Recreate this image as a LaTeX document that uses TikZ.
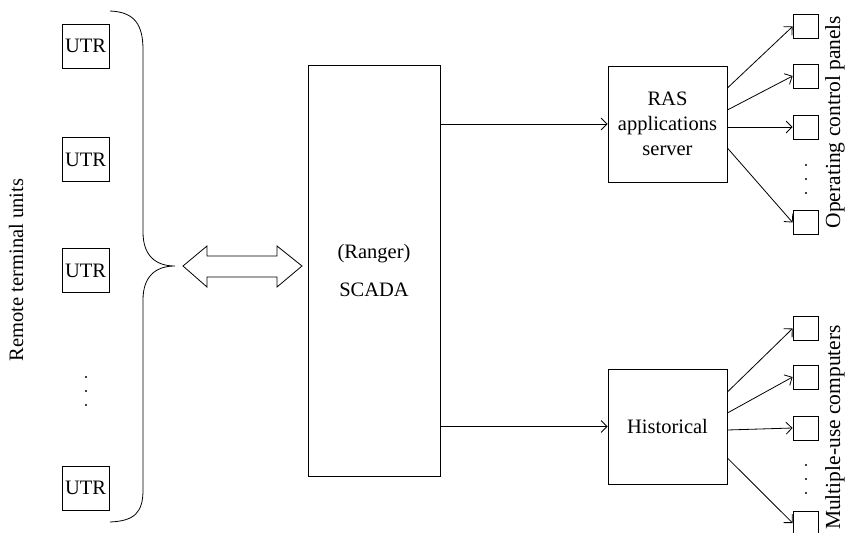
\documentclass[tikz,border=0pt]{standalone}
\usepackage{fontspec}
\setmainfont{Liberation Serif}
\usetikzlibrary{arrows.meta}
\begin{document}
\begin{tikzpicture}[x=1pt,y=-1pt,
  box/.style={draw,line width=0.8pt,inner sep=0pt},
  utr/.style={box,minimum width=47pt,minimum height=44pt},
  term/.style={box,minimum width=25pt,minimum height=24pt},
  lbl/.style={font=\fontsize{20.5}{25}\selectfont,align=center},
  vlbl/.style={font=\fontsize{21.5}{25}\selectfont,rotate=90},
  dot/.style={fill,circle,inner sep=0pt,minimum size=2.4pt},
  arr/.style={line width=0.8pt,-{Straight Barb[length=6pt,width=12pt,line width=0.8pt]}}
]
\useasboundingbox (0,0) rectangle (847,533);
\clip (0,0) rectangle (847,533);
% RTUs
\node[utr,lbl] (u1) at (85.5,46) {UTR};
\node[utr,lbl] (u2) at (85.5,159.5) {UTR};
\node[utr,lbl] (u3) at (85.5,270.5) {UTR};
\node[dot] (ud1) at (86,377) {};
\node[dot] (ud2) at (86,391) {};
\node[dot] (ud3) at (86,405) {};
\node[utr,lbl] (u5) at (85.5,488) {UTR};
\node[lbl,rotate=90] (rtu) at (16,270) {Remote terminal units};
% brace
\draw[line width=0.8pt] (110,11) .. controls (135,12) and (143,25) .. (143,50) -- (143,232)
  .. controls (143,255) and (155,266) .. (175,266)
  .. controls (155,266) and (143,277) .. (143,300) -- (143,490)
  .. controls (143,512) and (135,521) .. (110,522);
% double arrow
\draw[line width=0.8pt,line join=miter] (183,266) -- (207,246) -- (207,256) -- (277,256) -- (277,246) -- (302,266)
  -- (277,287) -- (277,277) -- (207,277) -- (207,287) -- cycle;
% SCADA
\node[box,lbl,minimum width=132pt,minimum height=411pt] (scada) at (374,270.5) {(Ranger)\\[13pt]SCADA};
% RAS
\node[box,lbl,minimum width=119pt,minimum height=116pt] (ras) at (667.5,124) {RAS\\applications\\server};
\node[box,lbl,minimum width=119pt,minimum height=115pt] (hist) at (667.5,426.5) {Historical};
\draw[arr] (scada.east |- ras.west) -- (ras.west);
\draw[arr] (scada.east |- 0,426.5) -- (hist.west);
% operating panels
\node[term] (p1) at (805.5,26.5) {};
\node[term] (p2) at (805.5,76) {};
\node[term] (p3) at (805.5,127) {};
\node[dot] (pd1) at (806,165) {};
\node[dot] (pd2) at (806,179) {};
\node[dot] (pd3) at (806,193) {};
\node[term] (p5) at (805.5,222.5) {};
\draw[arr] ([yshift=36pt]ras.east) -- (p1.west);
\draw[arr] ([yshift=14pt]ras.east) -- (p2.west);
\draw[arr] ([yshift=-3pt]ras.east) -- (p3.west);
\draw[arr] ([yshift=-24pt]ras.east) -- (p5.west);
\node[vlbl] (opl) at (835,122) {Operating control panels};
% computers
\node[term] (c1) at (805.5,328.5) {};
\node[term] (c2) at (805.5,377) {};
\node[term] (c3) at (805.5,428) {};
\node[dot] (cd1) at (806,465) {};
\node[dot] (cd2) at (806,479) {};
\node[dot] (cd3) at (806,493) {};
\node[term] (c5) at (805.5,523) {};
\draw[arr] ([yshift=34.5pt]hist.east) -- (c1.west);
\draw[arr] ([yshift=13.5pt]hist.east) -- (c2.west);
\draw[arr] ([yshift=-3.5pt]hist.east) -- (c3.west);
\draw[arr] ([yshift=-31.5pt]hist.east) -- (c5.west);
\node[vlbl] (mul) at (835,427.5) {Multiple-use computers};
\end{tikzpicture}
\end{document}
